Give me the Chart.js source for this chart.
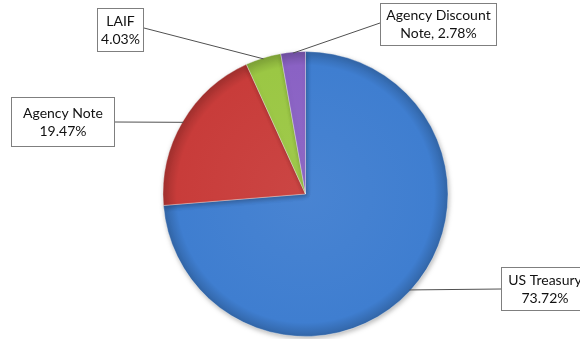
<!DOCTYPE html>
<html>
<head>
<meta charset="utf-8">
<script src="https://cdn.jsdelivr.net/npm/chart.js@4/dist/chart.umd.min.js"></script>
<style>
  html, body { margin: 0; padding: 0; background: #fff; }
  #wrap { width: 580px; height: 339px; position: relative; }
</style>
</head>
<body>
<div id="wrap"><canvas id="pieChart"></canvas></div>
<script>
// Portfolio holdings by investment type (percent of total)
const categories = ['US Treasury', 'Agency Note', 'LAIF', 'Agency Discount Note'];
const shares = [73.72, 19.47, 4.03, 2.78];
const sliceColors = ['#3f7ed0', '#c83c3a', '#9bc744', '#8a62c4'];

// Callout text, two lines per slice
function calloutText(i) {
  const pct = shares[i].toFixed(2) + '%';
  if (i === 3) return ['Agency Discount', 'Note, ' + pct];
  return [categories[i], pct];
}

// Callout boxes: rect plus the point on the box where the leader line meets it
const callouts = [
  { x: 501, y: 267, w: 88, h: 44, ax: 501, ay: 289 },
  { x: 11, y: 97, w: 104, h: 50, ax: 115, ay: 122 },
  { x: 97, y: 8, w: 47, h: 44, ax: 144, ay: 28 },
  { x: 380, y: 3, w: 117, h: 43, ax: 380, ay: 23 },
];

function shade(hex, f) {
  const n = parseInt(hex.slice(1), 16);
  let r = (n >> 16) & 255, g = (n >> 8) & 255, b = n & 255;
  const t = f < 0 ? 0 : 255, p = Math.abs(f);
  r = Math.round(r + (t - r) * p);
  g = Math.round(g + (t - g) * p);
  b = Math.round(b + (t - b) * p);
  return `rgb(${r},${g},${b})`;
}

function sliceFill(context) {
  const base = sliceColors[context.dataIndex];
  const area = context.chart.chartArea;
  if (!area) return base;
  const cx = (area.left + area.right) / 2;
  const cy = (area.top + area.bottom) / 2;
  const r = Math.min(area.right - area.left, area.bottom - area.top) / 2;
  const g = context.chart.ctx.createRadialGradient(cx, cy, 0, cx, cy, r);
  g.addColorStop(0, shade(base, 0.05));
  g.addColorStop(0.9, base);
  g.addColorStop(1, shade(base, -0.2));
  return g;
}

// Soft shadow under the pie
const pieShadow = {
  id: 'pieShadow',
  beforeDatasetsDraw(chart) {
    const ctx = chart.ctx;
    ctx.save();
    ctx.shadowColor = 'rgba(0,0,0,0.28)';
    ctx.shadowBlur = 5;
    ctx.shadowOffsetX = 1;
    ctx.shadowOffsetY = 2;
  },
  afterDatasetsDraw(chart) {
    chart.ctx.restore();
  }
};

// Boxed labels with leader lines to each slice's outer edge
const calloutLabels = {
  id: 'calloutLabels',
  afterDraw(chart) {
    const ctx = chart.ctx;
    const arcs = chart.getDatasetMeta(0).data;
    ctx.save();
    arcs.forEach((arc, i) => {
      const c = callouts[i];
      const mid = (arc.startAngle + arc.endAngle) / 2;
      const ex = arc.x + Math.cos(mid) * (arc.outerRadius - 1);
      const ey = arc.y + Math.sin(mid) * (arc.outerRadius - 1);

      ctx.strokeStyle = '#505050';
      ctx.lineWidth = 1;
      ctx.beginPath();
      ctx.moveTo(c.ax, c.ay);
      ctx.lineTo(ex, ey);
      ctx.stroke();

      ctx.fillStyle = '#ffffff';
      ctx.fillRect(c.x, c.y, c.w, c.h);
      ctx.strokeStyle = '#7f7f7f';
      ctx.strokeRect(c.x + 0.5, c.y + 0.5, c.w - 1, c.h - 1);

      ctx.fillStyle = '#111111';
      ctx.font = '14px Lato';
      ctx.textAlign = 'center';
      ctx.textBaseline = 'middle';
      const lines = calloutText(i);
      const cx = c.x + c.w / 2;
      const cy = c.y + c.h / 2;
      ctx.fillText(lines[0], cx, cy - 9);
      ctx.fillText(lines[1], cx, cy + 9);
    });
    ctx.restore();
  }
};

new Chart(document.getElementById('pieChart'), {
  type: 'pie',
  data: {
    labels: categories,
    datasets: [{
      data: shares,
      backgroundColor: sliceFill,
      borderColor: 'rgba(255,255,255,0.35)',
      borderWidth: 1
    }]
  },
  options: {
    responsive: true,
    maintainAspectRatio: false,
    animation: false,
    layout: { padding: { left: 31, right: 0, top: 51, bottom: 2 } },
    plugins: {
      legend: { display: false },
      tooltip: { enabled: false }
    }
  },
  plugins: [pieShadow, calloutLabels]
});
</script>
</body>
</html>
